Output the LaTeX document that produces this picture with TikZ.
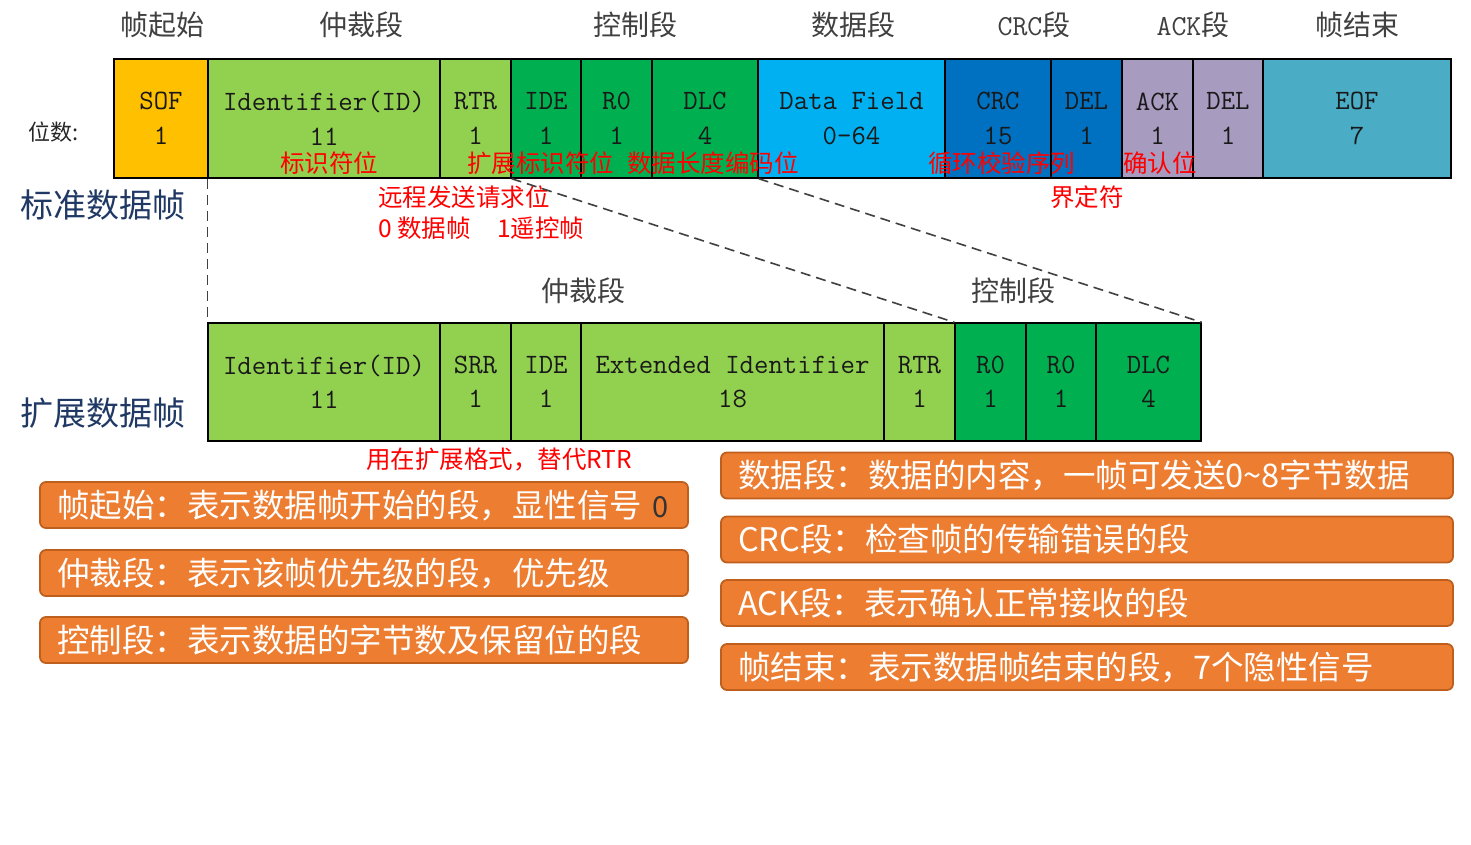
\documentclass[tikz,border=0pt]{standalone}
\usepackage{fontspec}
\newfontfamily\cjk{Noto Sans CJK SC}
\newcommand\monof{\ttfamily\addfontfeatures{FakeStretch=0.9}}
\definecolor{sofc}{RGB}{255,192,0}
\definecolor{lgreen}{RGB}{146,208,80}
\definecolor{dgreen}{RGB}{0,176,80}
\definecolor{cyanc}{RGB}{0,176,240}
\definecolor{bluec}{RGB}{0,112,192}
\definecolor{lavc}{RGB}{168,155,192}
\definecolor{eofc}{RGB}{75,172,198}
\definecolor{navy}{RGB}{31,56,100}
\definecolor{boxfill}{RGB}{237,125,49}
\definecolor{boxdraw}{RGB}{190,95,30}
\definecolor{annred}{RGB}{255,0,0}
\definecolor{segtext}{RGB}{64,64,64}
\begin{document}
\begin{tikzpicture}[x=1pt,y=-1pt,
  cell/.style={draw=black, line width=1.4pt, minimum height=119pt, inner sep=0pt, align=center,
    text=black!90, font=\monof\fontsize{28}{34.5}\selectfont},
  ecell/.style={cell, minimum height=118pt},
  seg/.style={font=\cjk\fontsize{28}{30}\selectfont, text=segtext, inner sep=0pt},
  ann/.style={font=\cjk\fontsize{24.5}{26}\selectfont, text=annred, inner sep=0pt},
  side/.style={font=\cjk\fontsize{33}{36}\selectfont, text=navy, inner sep=0pt, anchor=west},
  obox/.style={draw=boxdraw, line width=1.8pt, fill=boxfill, rounded corners=6pt, text=white,
    font=\cjk\fontsize{32.5}{36}\selectfont, align=left, minimum height=46pt, inner ysep=0pt},
  lbox/.style={obox, text width=614pt, inner xsep=17pt},
  rbox/.style={obox, text width=698pt, inner xsep=17pt},
  dashline/.style={draw=black!75, line width=1.6pt, dash pattern=on 10pt off 6pt}
]
\useasboundingbox[fill=white] (0,0) rectangle (1471,844);

% segment titles
\node[seg] (t1) at (162,25) {帧起始};
\node[seg] (t2) at (361,25) {仲裁段};
\node[seg] (t3) at (635,25) {控制段};
\node[seg] (t4) at (853,25) {数据段};
\node[seg] (t5) at (1034,25) {{\monof\fontsize{29}{30}\selectfont CRC}段};
\node[seg] (t6) at (1193,25) {{\monof\fontsize{29}{30}\selectfont ACK}段};
\node[seg] (t7) at (1357,25) {帧结束};

\node[font=\cjk\fontsize{22}{24}\selectfont, text=black!85, inner sep=0pt, anchor=west] (bits) at (28,132) {位数:};

% standard frame
\node[cell, minimum width=94pt, fill=sofc] (sof) at (161,118.5) {SOF\\1};
\node[cell, minimum width=232pt, fill=lgreen] (id) at (324,118.5) {Identifier(ID)\\11};
\node[cell, minimum width=71pt, fill=lgreen] (rtr) at (475.5,118.5) {RTR\\1};
\node[cell, minimum width=70pt, fill=dgreen] (ide) at (546,118.5) {IDE\\1};
\node[cell, minimum width=71pt, fill=dgreen] (r0) at (616.5,118.5) {R0\\1};
\node[cell, minimum width=106pt, fill=dgreen] (dlc) at (705,118.5) {DLC\\4};
\node[cell, minimum width=187pt, fill=cyanc] (data) at (851.5,118.5) {Data Field\\0-64};
\node[cell, minimum width=106pt, fill=bluec] (crc) at (998,118.5) {CRC\\15};
\node[cell, minimum width=71pt, fill=bluec] (del1) at (1086.5,118.5) {DEL\\1};
\node[cell, minimum width=71pt, fill=lavc] (ack) at (1157.5,118.5) {ACK\\1};
\node[cell, minimum width=70pt, fill=lavc] (del2) at (1228,118.5) {DEL\\1};
\node[cell, minimum width=188pt, fill=eofc] (eof) at (1357,118.5) {EOF\\7};

\node[side] (std) at (20,205) {标准数据帧};
\node[side] (ext) at (20,413) {扩展数据帧};

% annotations
\node[ann] (a1) at (329,163) {标识符位};
\node[ann, anchor=west] (a2) at (467,163) {扩展标识符位};
\node[ann, anchor=west] (a3) at (627,163) {数据长度编码位};
\node[ann, anchor=west] (a4) at (928,163) {循环校验序列};
\node[ann, anchor=west] (a5) at (1123,163) {确认位};
\node[ann, anchor=west] (a6) at (1050,197) {界定符};
\node[ann, anchor=west] (a7) at (378,197) {远程发送请求位};
\node[ann, anchor=west] (a8) at (378,228) {0 数据帧};
\node[ann, anchor=west] (a9) at (497,228) {1遥控帧};

% extended frame titles
\node[seg] (t8) at (583,291) {仲裁段};
\node[seg] (t9) at (1013,291) {控制段};

% extended frame
\node[ecell, minimum width=232pt, fill=lgreen] (eid) at (324,382) {Identifier(ID)\\11};
\node[ecell, minimum width=71pt, fill=lgreen] (srr) at (475.5,382) {SRR\\1};
\node[ecell, minimum width=70pt, fill=lgreen] (eide) at (546,382) {IDE\\1};
\node[ecell, minimum width=303pt, fill=lgreen] (xid) at (732.5,382) {Extended Identifier\\18};
\node[ecell, minimum width=71pt, fill=lgreen] (ertr) at (919.5,382) {RTR\\1};
\node[ecell, minimum width=71pt, fill=dgreen] (er0a) at (990.5,382) {R0\\1};
\node[ecell, minimum width=70pt, fill=dgreen] (er0b) at (1061,382) {R0\\1};
\node[ecell, minimum width=105pt, fill=dgreen] (edlc) at (1148.5,382) {DLC\\4};

\node[ann] (a10) at (499,459) {用在扩展格式，替代RTR};

% dashed connectors
\draw[dashline] (id.south west) -- (eid.north west);
\draw[dashline] (rtr.south east) -- (er0a.north west);
\draw[dashline] (dlc.south east) -- (edlc.north east);

% description boxes
\node[lbox] (b1) at (364,505) {帧起始：表示数据帧开始的段，显性信号 {\color{black!80}\fontsize{29}{30}\selectfont 0}};
\node[lbox] (b2) at (364,573) {仲裁段：表示该帧优先级的段，优先级};
\node[lbox] (b3) at (364,640) {控制段：表示数据的字节数及保留位的段};
\node[rbox] (b4) at (1087,475.5) {数据段：数据的内容，一帧可发送0\textasciitilde8字节数据};
\node[rbox] (b5) at (1087,539.5) {CRC段：检查帧的传输错误的段};
\node[rbox] (b6) at (1087,603) {ACK段：表示确认正常接收的段};
\node[rbox] (b7) at (1087,667) {帧结束：表示数据帧结束的段，7个隐性信号};
\end{tikzpicture}
\end{document}
